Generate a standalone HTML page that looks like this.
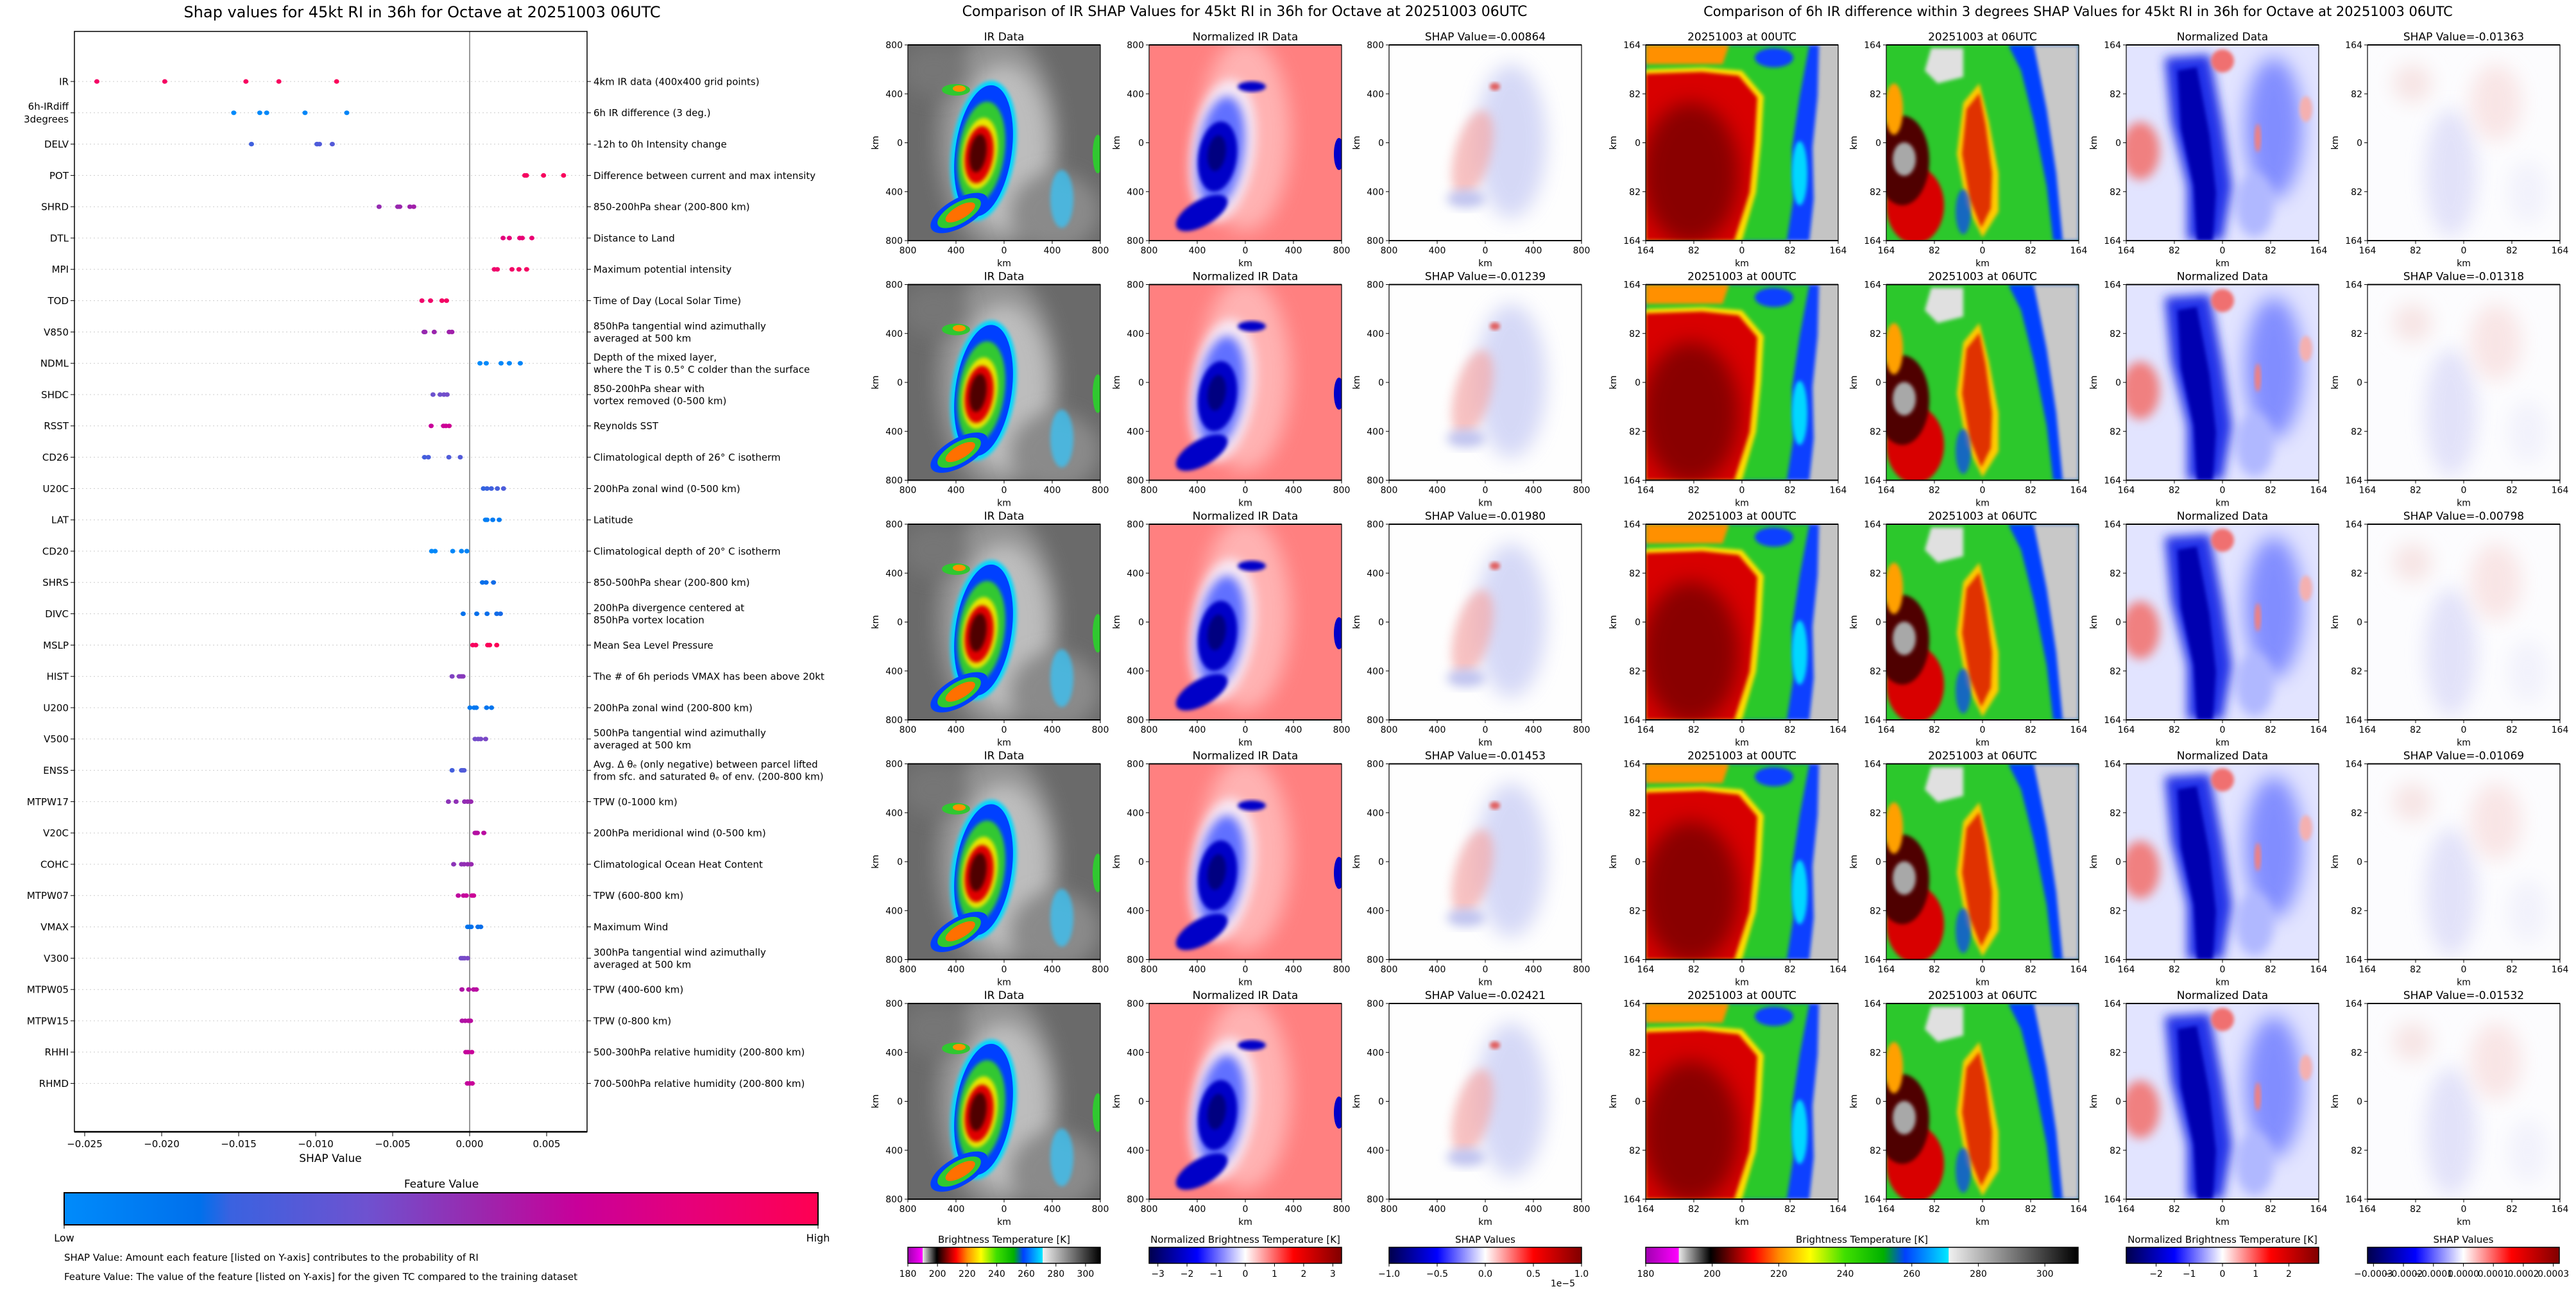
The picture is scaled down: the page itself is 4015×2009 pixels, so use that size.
<!DOCTYPE html>
<html><head><meta charset="utf-8"><title>SHAP RI Octave</title>
<style>
html,body{margin:0;padding:0;background:#fff;}
svg{display:block;font-family:"DejaVu Sans","Liberation Sans",sans-serif;}
</style></head>
<body>
<svg id="root" xmlns="http://www.w3.org/2000/svg" width="4015" height="2009" viewBox="0 0 4015 2009">
<defs>
<filter id="b3" x="-20%" y="-20%" width="140%" height="140%"><feGaussianBlur stdDeviation="3"/></filter>
<filter id="b8" x="-30%" y="-30%" width="160%" height="160%"><feGaussianBlur stdDeviation="8"/></filter>
<filter id="b15" x="-50%" y="-50%" width="200%" height="200%"><feGaussianBlur stdDeviation="15"/></filter>
<clipPath id="pclip"><rect x="0" y="0" width="300" height="305"/></clipPath>
<linearGradient id="gFeat" x1="0" x2="1" y1="0" y2="0">
<stop offset="0" stop-color="#008bfb"/><stop offset="0.18" stop-color="#0070ec"/><stop offset="0.22" stop-color="#3a62e0"/><stop offset="0.4" stop-color="#6e52d0"/><stop offset="0.55" stop-color="#9a28ae"/><stop offset="0.68" stop-color="#c8009a"/><stop offset="0.82" stop-color="#e4007c"/><stop offset="1" stop-color="#ff0052"/>
</linearGradient>
<linearGradient id="gIR" x1="0" x2="1" y1="0" y2="0">
<stop offset="0" stop-color="#a000b0"/><stop offset="0.076" stop-color="#ff00ff"/><stop offset="0.077" stop-color="#e8e8e8"/><stop offset="0.15" stop-color="#000"/><stop offset="0.2" stop-color="#800000"/><stop offset="0.25" stop-color="#ff0000"/><stop offset="0.31" stop-color="#ff9000"/><stop offset="0.38" stop-color="#ffff00"/><stop offset="0.46" stop-color="#40e000"/><stop offset="0.55" stop-color="#00b000"/><stop offset="0.6" stop-color="#0040ff"/><stop offset="0.7" stop-color="#00e8ff"/><stop offset="0.701" stop-color="#f0f0f0"/><stop offset="1" stop-color="#000"/>
</linearGradient>
<linearGradient id="gSeis" x1="0" x2="1" y1="0" y2="0">
<stop offset="0" stop-color="#00004c"/><stop offset="0.25" stop-color="#0000ff"/><stop offset="0.5" stop-color="#ffffff"/><stop offset="0.75" stop-color="#ff0000"/><stop offset="1" stop-color="#800000"/>
</linearGradient>

<g id="hmIR">
<rect width="300" height="305" fill="#6a6a6a"/>
<ellipse cx="140" cy="150" rx="95" ry="170" fill="#a0a0a0" opacity="0.75" filter="url(#b15)"/>
<ellipse cx="150" cy="160" rx="70" ry="130" fill="#c8c8c8" opacity="0.8" filter="url(#b15)"/>
<ellipse cx="230" cy="260" rx="70" ry="60" fill="#8a8a8a" filter="url(#b15)"/>
<ellipse cx="40" cy="40" rx="50" ry="40" fill="#767676" filter="url(#b15)"/>
<ellipse cx="240" cy="240" rx="18" ry="45" fill="#30c8ff" opacity="0.7" filter="url(#b3)"/>
<g transform="rotate(8 118 165)">
<ellipse cx="118" cy="165" rx="50" ry="110" fill="#00d8ff" filter="url(#b3)"/>
<ellipse cx="118" cy="165" rx="44" ry="103" fill="#0040ff"/>
<ellipse cx="115" cy="168" rx="36" ry="80" fill="#30c830" filter="url(#b3)"/>
<ellipse cx="113" cy="170" rx="27" ry="56" fill="#e8e800" filter="url(#b3)"/>
<ellipse cx="112" cy="172" rx="22" ry="45" fill="#e00000" filter="url(#b3)"/>
<ellipse cx="110" cy="170" rx="13" ry="30" fill="#500000" filter="url(#b3)"/>
</g>
<g transform="rotate(-30 80 262)">
<ellipse cx="80" cy="262" rx="50" ry="22" fill="#0040ff"/>
<ellipse cx="80" cy="262" rx="38" ry="16" fill="#30c830"/>
<ellipse cx="82" cy="262" rx="26" ry="10" fill="#ff7000"/>
</g>
<ellipse cx="75" cy="70" rx="22" ry="9" fill="#30c830"/><ellipse cx="80" cy="68" rx="10" ry="5" fill="#ff9000"/>
<ellipse cx="296" cy="170" rx="8" ry="30" fill="#30c830"/>
</g>

<g id="hmNorm">
<rect width="300" height="305" fill="#ff8080"/>
<ellipse cx="150" cy="140" rx="70" ry="150" fill="#ffc8c8" opacity="0.7" filter="url(#b15)"/>
<g transform="rotate(8 115 165)">
<ellipse cx="115" cy="165" rx="50" ry="112" fill="#f8e8f4" filter="url(#b8)"/>
<ellipse cx="112" cy="168" rx="36" ry="88" fill="#6070ff" filter="url(#b8)"/>
<ellipse cx="108" cy="175" rx="30" ry="55" fill="#0000c8" filter="url(#b3)"/>
<ellipse cx="106" cy="170" rx="14" ry="28" fill="#000080" filter="url(#b3)"/>
</g>
<g transform="rotate(-30 82 262)"><ellipse cx="82" cy="262" rx="45" ry="20" fill="#0000c8" filter="url(#b3)"/></g>
<ellipse cx="160" cy="65" rx="22" ry="8" fill="#0000c8" filter="url(#b3)"/>
<ellipse cx="296" cy="170" rx="8" ry="25" fill="#0000c8"/>
</g>

<g id="hmShap">
<rect width="300" height="305" fill="#fefefe"/>
<ellipse cx="190" cy="150" rx="55" ry="120" fill="#c8ccf4" opacity="0.75" filter="url(#b15)"/>
<ellipse cx="130" cy="170" rx="28" ry="70" fill="#f4a8a8" opacity="0.7" filter="url(#b8)" transform="rotate(15 130 170)"/>
<ellipse cx="120" cy="240" rx="30" ry="14" fill="#c0c4f0" filter="url(#b8)"/>
<ellipse cx="165" cy="65" rx="8" ry="6" fill="#e06060" filter="url(#b3)"/>
</g>

<g id="hm00">
<rect width="300" height="305" fill="#c4c4c4"/>
<polygon points="0,0 270,0 268,80 260,160 262,240 255,305 0,305" fill="#1040ff" filter="url(#b3)"/>
<polygon points="0,0 255,0 240,80 228,160 230,240 220,305 0,305" fill="#2cc82c" filter="url(#b3)"/>
<polygon points="0,0 130,0 120,30 0,30" fill="#ff9000" filter="url(#b3)"/>
<polygon points="0,38 90,35 150,40 184,80 180,150 172,230 150,305 0,305" fill="#ffe000" filter="url(#b3)"/>
<polygon points="0,45 88,42 145,48 174,82 170,150 162,230 138,305 0,305" fill="#d80000" filter="url(#b3)"/>
<ellipse cx="70" cy="200" rx="75" ry="110" fill="#600000" opacity="0.65" filter="url(#b15)"/>
<ellipse cx="200" cy="20" rx="30" ry="15" fill="#1040ff" filter="url(#b3)"/>
<ellipse cx="240" cy="200" rx="12" ry="50" fill="#00d8ff" filter="url(#b3)"/>
</g>

<g id="hm06">
<rect width="300" height="305" fill="#2cc82c"/>
<polygon points="190,0 300,0 300,305 260,305 250,220 230,120 210,40" fill="#0040ff" filter="url(#b3)"/>
<polygon points="230,0 300,0 300,305 275,305 265,200 250,100" fill="#c8c8c8" filter="url(#b3)"/>
<polygon points="70,5 120,5 120,50 80,60 60,40" fill="#e0e0e0" filter="url(#b3)"/>
<polygon points="120,90 145,60 160,120 175,200 175,260 150,300 125,250 110,170" fill="#ffcc00" filter="url(#b3)"/>
<polygon points="125,100 145,75 155,125 165,200 163,255 148,285 130,240 118,170" fill="#e03000" filter="url(#b3)"/>
<ellipse cx="45" cy="250" rx="45" ry="60" fill="#d80000" filter="url(#b3)"/>
<ellipse cx="25" cy="180" rx="42" ry="70" fill="#500000" filter="url(#b3)"/>
<ellipse cx="28" cy="178" rx="18" ry="26" fill="#a8a8a8" filter="url(#b3)"/>
<ellipse cx="12" cy="100" rx="14" ry="40" fill="#ffa000" filter="url(#b3)"/>
<ellipse cx="120" cy="260" rx="12" ry="35" fill="#1040ff" opacity="0.7" filter="url(#b3)"/>
</g>

<g id="hmND">
<rect width="300" height="305" fill="#e2e4ff"/>
<ellipse cx="230" cy="130" rx="45" ry="110" fill="#6a78ff" opacity="0.8" filter="url(#b15)"/>
<ellipse cx="200" cy="250" rx="30" ry="50" fill="#b0b8ff" filter="url(#b8)"/>
<polygon points="60,20 130,15 150,120 165,220 150,305 95,305 95,220 70,120" fill="#2030e8" filter="url(#b8)"/>
<polygon points="80,40 110,35 130,140 140,230 135,305 110,305 105,220 85,130" fill="#0000b0" filter="url(#b3)"/>
<ellipse cx="22" cy="165" rx="30" ry="45" fill="#f08080" filter="url(#b8)"/>
<ellipse cx="150" cy="25" rx="18" ry="18" fill="#f07070" filter="url(#b3)"/>
<ellipse cx="205" cy="145" rx="5" ry="22" fill="#f08080" filter="url(#b3)"/>
<ellipse cx="280" cy="100" rx="10" ry="20" fill="#f4b0b0" filter="url(#b3)"/>
</g>

<g id="hmShap2">
<rect width="300" height="305" fill="#fcfcfe"/>
<ellipse cx="130" cy="200" rx="40" ry="100" fill="#dcdcf8" opacity="0.8" filter="url(#b15)"/>
<ellipse cx="200" cy="90" rx="40" ry="60" fill="#f8e0e0" opacity="0.8" filter="url(#b15)"/>
<ellipse cx="70" cy="60" rx="30" ry="30" fill="#f6e4e4" filter="url(#b15)"/>
<ellipse cx="250" cy="230" rx="30" ry="50" fill="#f2f2fc" filter="url(#b15)"/>
</g>
</defs>
</svg>

<script>
// ---------------- SHAP summary chart data ----------------
const features = ["IR","6h-IRdiff\n3degrees","DELV","POT","SHRD","DTL","MPI","TOD","V850","NDML","SHDC","RSST","CD26","U20C","LAT","CD20","SHRS","DIVC","MSLP","HIST","U200","V500","ENSS","MTPW17","V20C","COHC","MTPW07","VMAX","V300","MTPW05","MTPW15","RHHI","RHMD"];
const descriptions = ["4km IR data (400x400 grid points)","6h IR difference (3 deg.)","-12h to 0h Intensity change","Difference between current and max intensity","850-200hPa shear (200-800 km)","Distance to Land","Maximum potential intensity","Time of Day (Local Solar Time)","850hPa tangential wind azimuthally\naveraged at 500 km","Depth of the mixed layer,\nwhere the T is 0.5° C colder than the surface","850-200hPa shear with\nvortex removed (0-500 km)","Reynolds SST","Climatological depth of 26° C isotherm","200hPa zonal wind (0-500 km)","Latitude","Climatological depth of 20° C isotherm","850-500hPa shear (200-800 km)","200hPa divergence centered at\n850hPa vortex location","Mean Sea Level Pressure","The # of 6h periods VMAX has been above 20kt","200hPa zonal wind (200-800 km)","500hPa tangential wind azimuthally\naveraged at 500 km","Avg. Δ θₑ (only negative) between parcel lifted\nfrom sfc. and saturated θₑ of env. (200-800 km)","TPW (0-1000 km)","200hPa meridional wind (0-500 km)","Climatological Ocean Heat Content","TPW (600-800 km)","Maximum Wind","300hPa tangential wind azimuthally\naveraged at 500 km","TPW (400-600 km)","TPW (0-800 km)","500-300hPa relative humidity (200-800 km)","700-500hPa relative humidity (200-800 km)"];
const shapValues = [
 [-0.02421,-0.0198,-0.01453,-0.01239,-0.00864],
 [-0.01532,-0.01363,-0.01318,-0.01069,-0.00798],
 [-0.01417,-0.00992,-0.0099,-0.00975,-0.00892],
 [0.00358,0.00369,0.0048,0.0061],
 [-0.00588,-0.00467,-0.00454,-0.00388,-0.00363],
 [0.00217,0.00258,0.00325,0.00342,0.00404],
 [0.0016,0.0018,0.00275,0.0032,0.0037],
 [-0.0031,-0.00254,-0.0018,-0.0015],
 [-0.00296,-0.0029,-0.0023,-0.00133,-0.00115],
 [0.00067,0.00108,0.00204,0.00258,0.00329],
 [-0.00238,-0.00192,-0.00167,-0.00146],
 [-0.0025,-0.0017,-0.00154,-0.00133],
 [-0.00293,-0.00268,-0.00135,-0.00061],
 [0.00089,0.00113,0.00141,0.0018,0.0022],
 [0.00103,0.00113,0.0015,0.00192],
 [-0.00247,-0.00224,-0.0011,-0.00053,-0.00018],
 [0.00083,0.00107,0.00155],
 [-0.00042,0.00046,0.00113,0.00176,0.002],
 [0.0002,0.0004,0.00117,0.0013,0.00176],
 [-0.00114,-0.00068,-0.00055,-0.00043],
 [0.00002,0.00029,0.00043,0.0011,0.00142],
 [0.00035,0.00055,0.00072,0.00104],
 [-0.00114,-0.00053,-0.00045,-0.00036],
 [-0.00138,-0.00088,-0.00033,-0.00013,0.00008],
 [0.00035,0.00042,0.0005,0.00092],
 [-0.00104,-0.00053,-0.00036,-0.00013,0.0001],
 [-0.00074,-0.0004,-0.00022,0.00015,0.00026],
 [-0.00013,0,0.0001,0.00054,0.00072],
 [-0.00056,-0.00045,-0.00033,-0.00013],
 [-0.0005,-0.00006,0.00026,0.00043],
 [-0.00049,-0.00029,-0.00008,0.00006],
 [-0.00025,-0.00011,0.00014],
 [-0.00015,0,0.00017]
];
const featureValues = [0.95,0.03,0.3,0.95,0.58,0.85,0.92,0.92,0.58,0.03,0.42,0.72,0.3,0.28,0.1,0.04,0.2,0.2,0.97,0.5,0.14,0.45,0.3,0.55,0.65,0.55,0.7,0.18,0.45,0.65,0.65,0.7,0.7];
const xTicks = [-0.025,-0.02,-0.015,-0.01,-0.005,0,0.005];
const xTickLabels = ["\u22120.025","\u22120.020","\u22120.015","\u22120.010","\u22120.005","0.000","0.005"];

// ---------------- image panel data ----------------
const irShapRows = ["-0.00864","-0.01239","-0.01980","-0.01453","-0.02421"];
const diffShapRows = ["-0.01363","-0.01318","-0.00798","-0.01069","-0.01532"];
const irTicks = ["800","400","0","400","800"];
const diffTicks = ["164","82","0","82","164"];
const cbIRTicks = [180,200,220,240,260,280,300];
const cbNormTicksL = [-3,-2,-1,0,1,2,3];
const cbShapTicksL = [-1.0,-0.5,0.0,0.5,1.0];
const cbNormTicksR = [-2,-1,0,1,2];
const cbShapTicksR = [-0.0003,-0.0002,-0.0001,0,0.0001,0.0002,0.0003];

const NS = "http://www.w3.org/2000/svg";
const root = document.getElementById("root");
function mk(tag, attrs, parent) {
  const e = document.createElementNS(NS, tag);
  for (const k in attrs) e.setAttribute(k, attrs[k]);
  (parent || root).appendChild(e);
  return e;
}
function txt(s, attrs, parent) {
  const e = mk("text", attrs, parent);
  e.textContent = s;
  return e;
}
function multi(s, x, yc, size, anchor, parent, lh) {
  const lines = s.split("\n");
  const t = mk("text", {x: x, "font-size": size, "text-anchor": anchor, fill: "#000"}, parent);
  const h = lh || size * 1.2;
  lines.forEach((l, i) => {
    const ts = mk("tspan", {x: x, y: yc + (i - (lines.length - 1) / 2) * h + size * 0.36}, t);
    ts.textContent = l;
  });
  return t;
}
function colorAt(v) {
  const stops = [[0,[0,139,251]],[0.18,[0,112,236]],[0.3,[80,92,218]],[0.45,[120,75,200]],[0.58,[155,35,172]],[0.7,[200,0,154]],[0.85,[232,0,118]],[1,[255,0,82]]];
  for (let i = 1; i < stops.length; i++) {
    if (v <= stops[i][0]) {
      const a = stops[i-1], b = stops[i], t = (v - a[0]) / (b[0] - a[0]);
      const c = a[1].map((x, j) => Math.round(x + (b[1][j] - x) * t));
      return "rgb(" + c.join(",") + ")";
    }
  }
  return "rgb(255,0,82)";
}

// ================= LEFT: SHAP summary =================
const AX = {l: 116, r: 915, t: 49, b: 1764};
const xs = v => 732 + v * 24000;
const ys = i => 127 + i * 48.8;

const leftTitle = txt("Shap values for 45kt RI in 36h for Octave at 20251003 06UTC", {x: 658, y: 27, "font-size": 24, "text-anchor": "middle"});



const plot = mk("g", {});



features.forEach((f, i) => {
  const y = ys(i);
  const grid = mk("line", {x1: AX.l, x2: AX.r, y1: y, y2: y, stroke: "#cccccc", "stroke-width": 1, "stroke-dasharray": "2,4"}, plot);
  
  
  mk("line", {x1: AX.l - 6, x2: AX.l, y1: y, y2: y, stroke: "#000", "stroke-width": 1}, plot);
  mk("line", {x1: AX.r, x2: AX.r + 6, y1: y, y2: y, stroke: "#000", "stroke-width": 1}, plot);
  const lab = multi(f, AX.l - 9, y, 15, "end", plot, 20);
  
  
  const d = multi(descriptions[i], AX.r + 10, y, 15, "start", plot, 19);
  
  
});

const zero = mk("line", {x1: xs(0), x2: xs(0), y1: AX.t, y2: AX.b, stroke: "#999", "stroke-width": 2}, plot);



shapValues.forEach((vals, i) => {
  vals.forEach((v, j) => {
    const fv = Math.min(1, Math.max(0, featureValues[i] + (j - vals.length / 2) * 0.01));
    const dot = mk("ellipse", {cx: xs(v), cy: ys(i), rx: 4, ry: 3.6, fill: colorAt(fv)}, plot);
    
    
  });
});

const frame = mk("rect", {x: AX.l, y: AX.t, width: AX.r - AX.l, height: AX.b - AX.t, fill: "none", stroke: "#000", "stroke-width": 1.5}, plot);


mk("line", {x1: AX.l, x2: AX.r, y1: AX.b, y2: AX.b, stroke: "#000", "stroke-width": 2.5}, plot);

xTicks.forEach((t, i) => {
  const x = xs(t);
  mk("line", {x1: x, x2: x, y1: AX.b, y2: AX.b + 7, stroke: "#000", "stroke-width": 1}, plot);
  const tl = txt(xTickLabels[i], {x: x, y: 1788, "font-size": 15, "text-anchor": "middle"}, plot);
  
  
});
const xt = txt("SHAP Value", {x: 515, y: 1811, "font-size": 17, "text-anchor": "middle"});



const fvTitle = txt("Feature Value", {x: 688, y: 1851, "font-size": 17, "text-anchor": "middle"});


const fvBar = mk("rect", {x: 100, y: 1859, width: 1175, height: 50, fill: "url(#gFeat)", stroke: "#000", "stroke-width": 2});


mk("line", {x1: 100, x2: 100, y1: 1909, y2: 1915, stroke: "#000"});
mk("line", {x1: 1275, x2: 1275, y1: 1909, y2: 1915, stroke: "#000"});
const low = txt("Low", {x: 100, y: 1935, "font-size": 16, "text-anchor": "middle"});


const high = txt("High", {x: 1275, y: 1935, "font-size": 16, "text-anchor": "middle"});


const n1 = txt("SHAP Value: Amount each feature [listed on Y-axis] contributes to the probability of RI", {x: 100, y: 1965, "font-size": 15});


const n2 = txt("Feature Value: The value of the feature [listed on Y-axis] for the given TC compared to the training dataset", {x: 100, y: 1995, "font-size": 15});



// ================= RIGHT: image panels =================
const t2 = txt("Comparison of IR SHAP Values for 45kt RI in 36h for Octave at 20251003 06UTC", {x: 1940, y: 25, "font-size": 22, "text-anchor": "middle"});


const t3 = txt("Comparison of 6h IR difference within 3 degrees SHAP Values for 45kt RI in 36h for Octave at 20251003 06UTC", {x: 3239, y: 25, "font-size": 21, "text-anchor": "middle"});



const colX = [1415, 1791, 2165, 2565, 2940, 3314, 3690];
const colImg = ["hmIR", "hmNorm", "hmShap", "hm00", "hm06", "hmND", "hmShap2"];
const PW = 300, PH = 305;
const rowTop = r => 70 + r * 373.5;

for (let r = 0; r < 5; r++) {
  for (let c = 0; c < 7; c++) {
    const x0 = colX[c], y0 = rowTop(r);
    const g = mk("g", {transform: "translate(" + x0 + "," + y0 + ")"});
    
    
    const cg = mk("g", {"clip-path": "url(#pclip)"}, g);
    mk("use", {href: "#" + colImg[c]}, cg);
    mk("rect", {x: 0, y: 0, width: PW, height: PH, fill: "none", stroke: "#000", "stroke-width": 1.2}, g);
    mk("line", {x1: 0, x2: PW, y1: 0, y2: 0, stroke: "#000", "stroke-width": 2}, g);
    mk("line", {x1: 0, x2: PW, y1: PH, y2: PH, stroke: "#000", "stroke-width": 2}, g);
    let title;
    if (c === 0) title = "IR Data";
    else if (c === 1) title = "Normalized IR Data";
    else if (c === 2) title = "SHAP Value=" + irShapRows[r];
    else if (c === 3) title = "20251003 at 00UTC";
    else if (c === 4) title = "20251003 at 06UTC";
    else if (c === 5) title = "Normalized Data";
    else title = "SHAP Value=" + diffShapRows[r];
    const pt = txt(title, {x: PW / 2, y: -7, "font-size": 17, "text-anchor": "middle"}, g);
    
    
    const ticks = c < 3 ? irTicks : diffTicks;
    ticks.forEach((t, k) => {
      const px = k * PW / 4, py = k * PH / 4;
      mk("line", {x1: px, x2: px, y1: PH, y2: PH + 5, stroke: "#000"}, g);
      mk("line", {x1: -5, x2: 0, y1: py, y2: py, stroke: "#000"}, g);
      const xl = txt(t, {x: px, y: PH + 20, "font-size": 14, "text-anchor": "middle"}, g);
      
      
      const yl = txt(t, {x: -8, y: py + 5, "font-size": 14, "text-anchor": "end"}, g);
      
      
    });
    const xk = txt("km", {x: PW / 2, y: PH + 40, "font-size": 14, "text-anchor": "middle"}, g);
    
    
    const yk = txt("km", {x: 0, y: 0, "font-size": 14, "text-anchor": "middle", transform: "translate(-46," + (PH / 2) + ") rotate(-90)"}, g);
    
    
  }
}

// ---------------- colorbars ----------------
function colorbar(x0, w, grad, title, ticks, vmin, vmax, fmt, name) {
  const g = mk("g", {});
  
  
  const tt = txt(title, {x: x0 + w / 2, y: 1937, "font-size": 15, "text-anchor": "middle"}, g);
  
  
  mk("rect", {x: x0, y: 1944, width: w, height: 25, fill: "url(#" + grad + ")", stroke: "#000", "stroke-width": 1.5}, g);
  ticks.forEach(t => {
    const x = x0 + (t - vmin) / (vmax - vmin) * w;
    mk("line", {x1: x, x2: x, y1: 1969, y2: 1974, stroke: "#000"}, g);
    const tl = txt(fmt(t), {x: x, y: 1990, "font-size": 14, "text-anchor": "middle"}, g);
    
    
  });
}
const mfmt = (d) => (t) => (t < 0 ? "\u2212" : "") + Math.abs(t).toFixed(d);
colorbar(1415, 300, "gIR", "Brightness Temperature [K]", cbIRTicks, 180, 310, t => String(t), "ir-colorbar");
colorbar(1791, 300, "gSeis", "Normalized Brightness Temperature [K]", cbNormTicksL, -3.3, 3.3, mfmt(0), "norm-colorbar");
colorbar(2165, 300, "gSeis", "SHAP Values", cbShapTicksL, -1.0, 1.0, mfmt(1), "shap-colorbar");
const ex = txt("1e\u22125", {x: 2455, y: 2005, "font-size": 14, "text-anchor": "end"});


colorbar(2565, 674, "gIR", "Brightness Temperature [K]", cbIRTicks, 180, 310, t => String(t), "diff-ir-colorbar");
colorbar(3314, 300, "gSeis", "Normalized Brightness Temperature [K]", cbNormTicksR, -2.9, 2.9, mfmt(0), "diff-norm-colorbar");
colorbar(3690, 299, "gSeis", "SHAP Values", cbShapTicksR, -0.00032, 0.00032, mfmt(4), "diff-shap-colorbar");
</script>
</body></html>
